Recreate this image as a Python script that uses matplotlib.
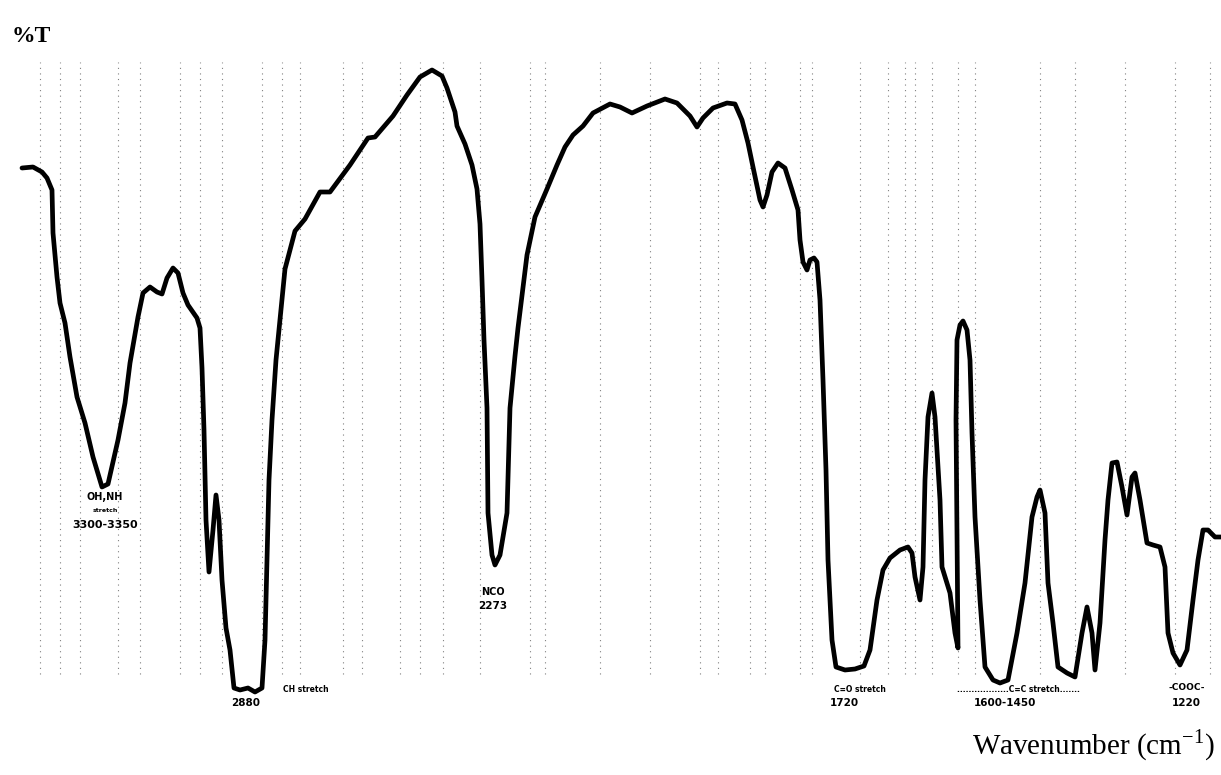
import matplotlib
matplotlib.use("Agg")
import matplotlib.pyplot as plt

trace_x = [22, 33, 42, 47, 52, 53, 57, 60, 65, 70, 77, 85, 93, 102, 108, 118, 125, 130, 138, 143,
           150, 157, 162, 167, 173, 178, 183, 188, 197, 200, 202, 204, 206, 209, 213, 216, 219, 222,
           226, 230, 234, 240, 248, 255, 262, 265, 267, 269, 272, 276, 280, 285, 295, 305, 320, 330,
           350, 368, 375, 393, 407, 420, 432, 442, 447, 455, 457, 465, 472, 477, 480, 482, 484, 487,
           488, 492, 495, 500, 507, 510, 515, 518, 527, 535, 547, 557, 565, 573, 583, 593, 610, 620,
           632, 647, 665, 677, 690, 697, 703, 713, 727, 735, 742, 748, 753, 760, 763, 767, 772, 778,
           785, 792, 798, 800, 803, 807, 810, 814, 817, 820, 823, 826, 828, 832, 836, 845, 855, 864,
           870, 877, 883, 890, 900, 908, 912, 915, 920, 923, 925, 928, 932, 935, 940, 942, 950, 955,
           958, 957, 956, 957, 960, 963, 967, 970, 972, 975, 980, 985, 993, 1000, 1008, 1017, 1025,
           1032, 1037, 1040, 1045, 1048, 1053, 1058, 1067, 1075, 1082, 1087, 1092, 1095, 1100, 1105,
           1108, 1112, 1117, 1122, 1127, 1132, 1135, 1140, 1147, 1153, 1160, 1165, 1168, 1173, 1180,
           1187, 1193, 1198, 1203, 1208, 1215, 1221]
trace_y = [168, 167, 172, 178, 190, 233, 277, 303, 323, 357, 397, 423, 457, 487, 484, 440, 403, 363, 317, 293,
           287, 292, 294, 278, 268, 273, 293, 305, 318, 328, 368, 430, 520, 572, 530, 495, 520, 580,
           628, 650, 688, 690, 688, 692, 688, 640, 560, 480, 420, 360, 320, 269, 231, 219, 192, 192,
           165, 138, 137, 116, 95, 77, 70, 76, 88, 112, 126, 144, 165, 189, 224, 280, 340, 408,
           513, 555, 565, 555, 513, 408, 356, 328, 255, 217, 189, 165, 147, 135, 126, 113, 104, 107,
           113, 106, 99, 103, 116, 127, 118, 108, 103, 104, 120, 143, 167, 200, 207, 195, 172, 163,
           168, 190, 210, 240, 262, 270, 260, 258, 262, 300, 380, 470, 560, 640, 667, 670, 669, 666,
           650, 600, 570, 558, 550, 547, 553, 577, 600, 567, 480, 417, 393, 417, 500, 567, 593, 633,
           648, 540, 420, 340, 325, 321, 330, 360, 433, 517, 600, 667, 680, 683, 680, 633, 583,
           517, 497, 490, 513, 583, 623, 667, 673, 677, 633, 607, 633, 670, 623, 540,
           500, 463, 462, 487, 515, 477, 473, 500, 543, 545, 547, 567, 633, 653, 665,
           650, 600, 560, 530, 530, 537, 537]

# chart-paper rulings (faint dotted verticals)
paper_lines = [40, 60, 80, 118, 140, 180, 200, 222, 262, 282, 300, 343, 362, 400,
               420, 443, 480, 530, 545, 600, 650, 700, 718, 750, 765,
               800, 812, 860, 888, 905, 915, 932, 958, 975, 1040, 1075, 1125, 1175, 1210]

# band annotations: (x, y, text, size)
bands = [
    (105, 497, "OH,NH", 7), (105, 510, "stretch", 4.5), (105, 525, "3300-3350", 8),
    (306, 690, "CH stretch", 5.5), (246, 703, "2880", 7.5),
    (493, 592, "NCO", 7), (493, 606, "2273", 7.5),
    (860, 689, "C=O stretch", 5.5), (844, 703, "1720", 7.5),
    (1018, 690, "..................C=C stretch.......", 5.5), (1005, 703, "1600-1450", 7.5),
    (1187, 688, "-COOC-", 6.5), (1186, 703, "1220", 7.5),
]

def main():
    fig = plt.figure(figsize=(12.21, 7.75), dpi=100)
    ax = fig.add_axes([0, 0, 1, 1])
    ax.set_xlim(0, 1221)
    ax.set_ylim(775, 0)
    ax.axis("off")

    for px in paper_lines:
        ax.axvline(px, ymin=0.13, ymax=0.92, color="black", lw=0.8,
                   linestyle=(0, (1, 4)), alpha=0.5, zorder=1)

    ax.plot(trace_x, trace_y, color="black", lw=3.4, solid_joinstyle="round",
            solid_capstyle="round", zorder=3)

    for x, y, s, fs in bands:
        ax.text(x, y, s, ha="center", va="center", fontsize=fs, fontweight="bold",
                family="DejaVu Sans", zorder=4)

    fig.text(12 / 1221, 1 - 37 / 775, "%T", fontsize=17, fontweight="bold",
             family="Liberation Serif", va="center", ha="left")
    fig.text(1215 / 1221, 1 - 745 / 775, "Wavenumber (cm$^{\\mathregular{-1}}$)", fontsize=21,
             family="Liberation Serif", va="center", ha="right")

    fig.savefig("out.png", dpi=100, facecolor="white")

if __name__ == "__main__":
    main()
